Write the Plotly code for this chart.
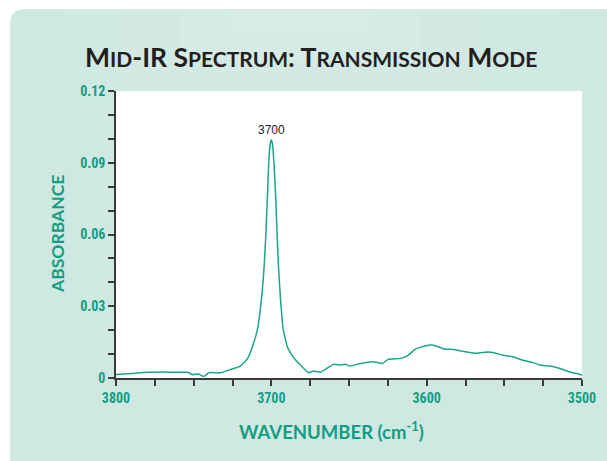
import plotly.graph_objects as go

# Wavenumber (cm-1) and absorbance
wavenumber = [3800, 3790, 3780, 3770, 3761, 3754, 3750.5, 3747, 3743.5, 3740.3,
              3732.6, 3726, 3720, 3717, 3715, 3712.2, 3709.0, 3706.2, 3704.5, 3703.4,
              3702.5, 3701.7, 3700.8, 3700, 3699.2, 3698.3, 3697.2, 3696.4, 3695.5, 3694.2,
              3692.3, 3689.7, 3687.6, 3684.4, 3681.2, 3676, 3672.8, 3668.3, 3660, 3655.5,
              3652.3, 3649.1, 3642.6, 3634.3, 3628.5, 3624.7, 3616.9, 3611.8, 3607.3, 3600,
              3596.4, 3592.6, 3588.1, 3583.6, 3575.2, 3567.5, 3564.3, 3557.2, 3550.8, 3544.4,
              3538.6, 3532.2, 3527, 3520.6, 3514.2, 3507.8, 3501.3, 3500]
absorbance = [0.0015, 0.0019, 0.0024, 0.0025, 0.0024, 0.0024, 0.0014, 0.0017, 0.0006, 0.0022,
              0.0022, 0.0036, 0.0050, 0.0068, 0.0085, 0.0131, 0.0201, 0.0340, 0.0480, 0.0619,
              0.0758, 0.0898, 0.0975, 0.0995, 0.0975, 0.0898, 0.0758, 0.0619, 0.0480, 0.0340,
              0.0201, 0.0131, 0.0104, 0.0075, 0.0054, 0.0022, 0.0029, 0.0024, 0.0057, 0.0054,
              0.0057, 0.0050, 0.0061, 0.0068, 0.0061, 0.0078, 0.0082, 0.0096, 0.0121, 0.0136,
              0.0138, 0.0131, 0.0120, 0.0120, 0.0110, 0.0103, 0.0107, 0.0107, 0.0095, 0.0089,
              0.0075, 0.0066, 0.0054, 0.0050, 0.0040, 0.0025, 0.0015, 0.0012]

x_tickvals = [3800, 3700, 3600, 3500]
x_ticktext = ["3800", "3700", "3600", "3500"]
y_tickvals = [0, 0.03, 0.06, 0.09, 0.12]
y_ticktext = ["0", "0.03", "0.06", "0.09", "0.12"]
peak_label = "3700"
peak_wn = 3700
peak_abs = 0.0995

TEAL = "#139e83"
LINE = "#1aa588"
PANEL = "#cfe8e2"
AXIS = "#3a3a3a"
TICKFONT = dict(family="Liberation Sans Narrow, Roboto Condensed, Arial Narrow, Liberation Sans",
                size=14, color=TEAL, weight="bold")

fig = go.Figure()
fig.add_trace(go.Scatter(x=wavenumber, y=absorbance, mode="lines",
                         line=dict(color=LINE, width=1.5, shape="spline", smoothing=0.4),
                         hoverinfo="skip", showlegend=False))

# panel with rounded top-left corner (paper coordinates)
W, H = 607, 461
L, R, T, B = 116, 25, 91, 83
pw, ph = W - L - R, H - T - B
def px(x): return (x - L) / pw
def py(y): return (H - B - y) / ph
x0, x1, y0, y1 = px(10), px(607), py(461), py(9)
rx, ry = 15 / pw, 15 / ph
path = (f"M {x0},{y0} L {x0},{y1 - ry} Q {x0},{y1} {x0 + rx},{y1} "
        f"L {x1},{y1} L {x1},{y0} Z")
shapes = [dict(type="path", path=path, xref="paper", yref="paper",
               fillcolor=PANEL, line=dict(width=0), layer="below")]
# subtle lighter glow near top centre
for a, b, c in [(px(60), px(560), py(120)), (px(120), px(480), py(90)),
                (px(180), px(420), py(60)), (px(230), px(370), py(35))]:
    shapes.append(dict(type="rect", xref="paper", yref="paper", x0=a, x1=b, y0=c, y1=y1,
                       fillcolor="white", opacity=0.06, line=dict(width=0), layer="below"))
shapes.append(dict(type="rect", xref="paper", yref="paper", x0=0, x1=1, y0=0, y1=1,
                   fillcolor="white", line=dict(width=0), layer="below"))

title_html = ("M<span style='font-size:21px'>ID</span>-IR "
              "S<span style='font-size:21px'>PECTRUM</span>: "
              "T<span style='font-size:21px'>RANSMISSION</span> "
              "M<span style='font-size:21px'>ODE</span>")

annotations = [
    dict(text=title_html, xref="paper", yref="paper", x=px(311), y=py(57),
         xanchor="center", yanchor="middle", showarrow=False,
         font=dict(family="Lato, Open Sans, sans-serif", size=26.5, color="#231f20", weight="bold")),
    dict(text="ABSORBANCE", xref="paper", yref="paper", x=px(57), y=py(234),
         xanchor="center", yanchor="middle", textangle=-90, showarrow=False,
         font=dict(family="Lato, Open Sans, sans-serif", size=17.5, color=TEAL, weight="bold")),
    dict(text="WAVENUMBER (cm<sup>-1</sup>)", xref="paper", yref="paper", x=px(331), y=py(430),
         xanchor="center", yanchor="middle", showarrow=False,
         font=dict(family="Lato, Open Sans, sans-serif", size=18.5, color=TEAL, weight="bold")),
    dict(text=peak_label, x=peak_wn, y=peak_abs, xref="x", yref="y",
         xanchor="center", yanchor="bottom", yshift=1, showarrow=False,
         font=dict(family="Liberation Sans, Arial, sans-serif", size=12, color="#222222")),
]

fig.update_layout(
    width=W, height=H, margin=dict(l=L, r=R, t=T, b=B),
    paper_bgcolor="white", plot_bgcolor="white",
    shapes=shapes, annotations=annotations,
    xaxis=dict(range=[3800, 3500], showgrid=False, zeroline=False,
               showline=True, linecolor=AXIS, linewidth=1.5,
               ticks="outside", ticklen=6, tickwidth=1.5, tickcolor=AXIS,
               tickvals=x_tickvals, ticktext=x_ticktext, tickfont=TICKFONT,
               minor=dict(dtick=25, ticks="outside", ticklen=6, tickwidth=1.5, tickcolor=AXIS,
                          showgrid=False)),
    yaxis=dict(range=[0, 0.12], showgrid=False, zeroline=False,
               showline=True, linecolor=AXIS, linewidth=1.5,
               ticks="outside", ticklen=6, tickwidth=1.5, tickcolor=AXIS,
               tickvals=y_tickvals, ticktext=y_ticktext, tickfont=TICKFONT,
               minor=dict(dtick=0.01, ticks="outside", ticklen=6, tickwidth=1.5, tickcolor=AXIS,
                          showgrid=False)),
)

fig.write_html("out.html", config={"displayModeBar": False},
               post_script="document.body.style.margin='0';document.body.style.overflow='hidden';")
